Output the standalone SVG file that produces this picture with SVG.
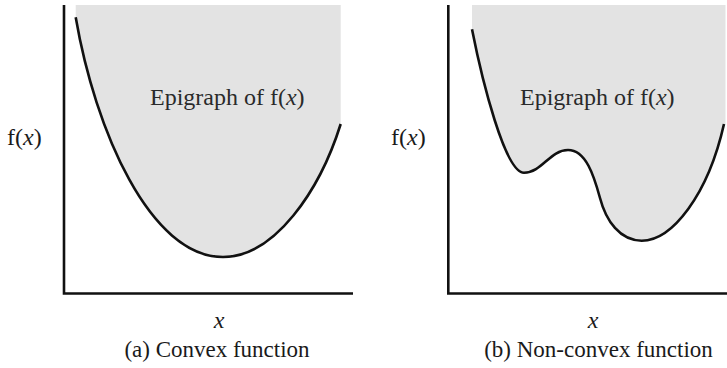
<svg xmlns="http://www.w3.org/2000/svg" width="727" height="368" viewBox="0 0 727 368">
<style>
.bg{fill:#ffffff}
.epi{fill:#e3e3e3;stroke:none}
.curve{fill:none;stroke:#111;stroke-width:2.6;stroke-linecap:butt}
.axis{fill:none;stroke:#111;stroke-width:2.6}
.t{font-family:"Liberation Serif","Times New Roman",serif;fill:#1a1a1a}
.lbl{font-size:24px}
.cap{font-size:23px;text-anchor:middle}
.epit{font-size:24px;fill:#2a2a2a}
.it{font-style:italic}
</style>
<rect class="bg" x="0" y="0" width="727" height="368"/>
<g id="panel-a">
  <path class="epi" d="M75.7,5 L75.7,17.3 C95,130 150,257 223,257 C275,257 320,190 340.7,124 L340.7,5 Z"/>
  <path class="curve" d="M75.7,17.3 C95,130 150,257 223,257 C275,257 320,190 340.7,124"/>
  <path class="axis" d="M64,5 L64,293.5 L353,293.5"/>
  <text class="t epit" x="150" y="105">Epigraph of f(<tspan class="it">x</tspan>)</text>
  <text class="t lbl" x="7" y="145">f(<tspan class="it">x</tspan>)</text>
  <text class="t lbl it" x="219" y="328" text-anchor="middle">x</text>
  <text class="t cap" x="217" y="357">(a) Convex function</text>
</g>
<g id="panel-b">
  <path class="epi" d="M472,5 L472,29.3 C482,80 505,172.7 524,172.7 C542,172.7 550,150 568,150 C586,150 594,176 600,198 C606,221 620,240.7 641.7,240.7 C672,240.7 708,195 724,124 L725.5,124 L725.5,5 Z"/>
  <path class="curve" d="M472,29.3 C482,80 505,172.7 524,172.7 C542,172.7 550,150 568,150 C586,150 594,176 600,198 C606,221 620,240.7 641.7,240.7 C672,240.7 708,195 724,124"/>
  <path class="axis" d="M448.3,5 L448.3,293.5 L727,293.5"/>
  <text class="t epit" x="520" y="105">Epigraph of f(<tspan class="it">x</tspan>)</text>
  <text class="t lbl" x="391" y="145">f(<tspan class="it">x</tspan>)</text>
  <text class="t lbl it" x="593" y="328" text-anchor="middle">x</text>
  <text class="t cap" x="598.5" y="357">(b) Non-convex function</text>
</g>
<g id="connectors"></g>
</svg>
